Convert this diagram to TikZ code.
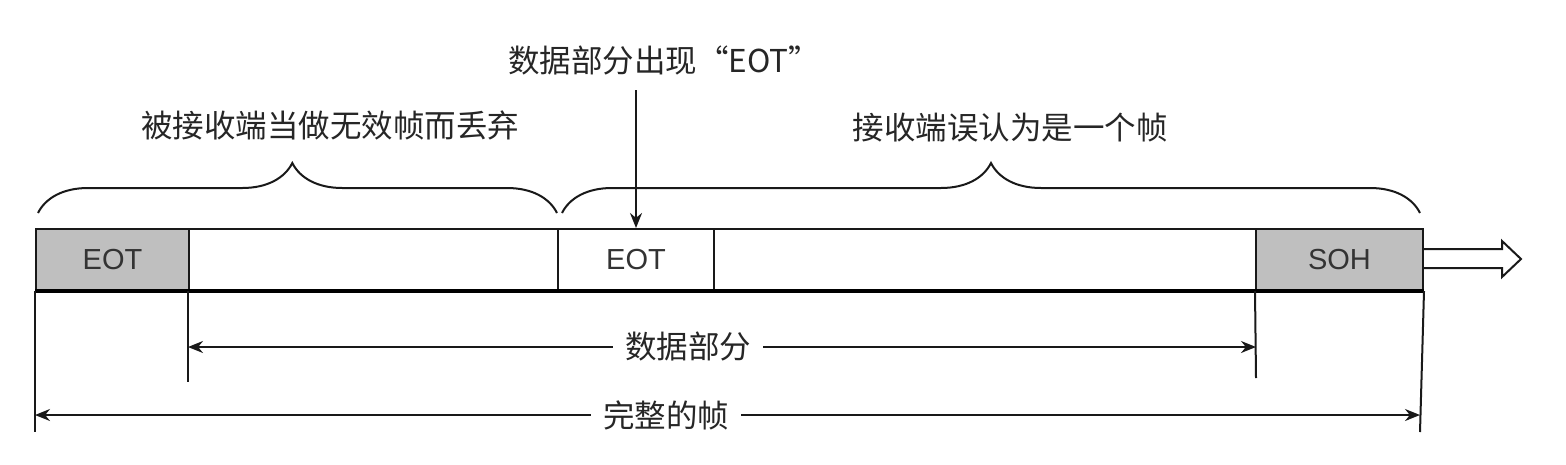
\documentclass[tikz,border=0pt]{standalone}
\usepackage{fontspec}
\setmainfont{Liberation Sans}
\newfontfamily\cjk{Noto Sans CJK SC}
\usetikzlibrary{decorations.pathreplacing,arrows.meta}
\begin{document}
\begin{tikzpicture}[x=1pt,y=-1pt,
  line/.style={draw=black!90,line width=2pt},
  cell/.style={line,minimum height=61pt,inner sep=0pt,anchor=north west,
    font=\fontsize{29}{30}\selectfont,text=black!80},
  graycell/.style={cell,fill=black!25},
  lab/.style={font=\cjk\fontsize{31.5}{33}\selectfont,text=black!85,inner sep=2pt},
  gaplab/.style={lab,fill=white,inner xsep=12pt},
  brc/.style={line,decorate,decoration={brace,amplitude=50pt,aspect=0.5}},
  arr/.style={line,-{Stealth[length=15pt,width=12pt]}},
]
\useasboundingbox (0,0) rectangle (1566,464);
% frame cells
\node[graycell,minimum width=153pt] (c1) at (35,228) {EOT};
\node[cell,minimum width=369pt] (c2) at (188,228) {};
\node[cell,minimum width=156pt] (c3) at (557,228) {EOT};
\node[cell,minimum width=542pt] (c4) at (713,228) {};
\node[graycell,minimum width=167pt] (c5) at (1255,228) {SOH};
\draw[draw=black,line width=3.5pt] (c1.south west) -- (c5.south east);
% hollow arrow
\draw[line,fill=white,line join=miter] (c5.east |- 0,249) -- (1502,249) -- (1502,241) -- (1521,259)
  -- (1502,277) -- (1502,268) -- (c5.east |- 0,268);
% braces
\coordinate (b1a) at (38,213);
\coordinate (b1b) at (557,213);
\coordinate (b2a) at (562,213);
\coordinate (b2b) at (1420,213);
\draw[brc,decoration={aspect=0.49}] (b1a) -- (b1b);
\draw[brc] (b2a) -- (b2b);
% top labels
\node[lab] (t1) at (330,125) {被接收端当做无效帧而丢弃};
\node[lab] (t2) at (1010,128) {接收端误认为是一个帧};
\node[lab] (t3) at (664,60) {数据部分出现“EOT”};
\coordinate (a0) at (636,90);
\draw[arr] (a0) -- (c3.north -| a0);
% ticks below
\coordinate (k1) at (35,432);
\coordinate (k2) at (188,382);
\coordinate (k3) at (1256,378);
\coordinate (k4) at (1420,432);
\draw[line] (c1.south west) -- (k1);
\draw[line] (c2.south west) -- (k2);
\draw[line] (c5.south west) -- (k3);
\draw[line] (c5.south east) -- (k4);
% dimension arrows
\node[gaplab] (d1) at (688,347) {数据部分};
\draw[arr] (d1.west) -- (k2 |- d1);
\draw[arr] (d1.east) -- (k3 |- d1);
\node[gaplab] (d2) at (666,415) {完整的帧};
\draw[arr] (d2.west) -- (k1 |- d2);
\draw[arr] (d2.east) -- (k4 |- d2);
\end{tikzpicture}
\end{document}
